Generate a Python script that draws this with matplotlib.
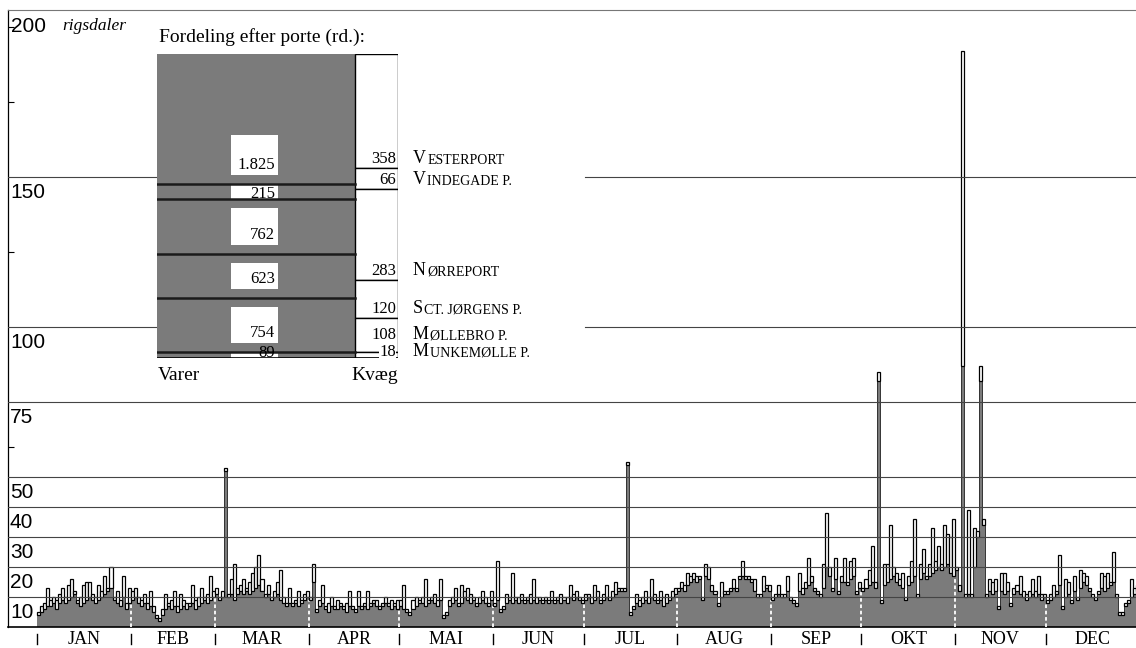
import numpy as np
import matplotlib.pyplot as plt
from matplotlib.transforms import blended_transform_factory

# Daily toll income (rigsdaler), one line per month
maaneder = ["JAN", "FEB", "MAR", "APR", "MAI", "JUN",
            "JUL", "AUG", "SEP", "OKT", "NOV", "DEC"]
dage_i_maaned = [31, 28, 31, 30, 31, 30, 31, 31, 30, 31, 30, 31]

# goods (grey part)
varer = [
    4, 5, 6, 7, 7, 8, 6, 8, 9, 8, 9, 10, 11, 8, 7, 8, 9, 10, 9, 8, 9, 10, 11, 12, 13, 9, 8, 7, 10, 6, 8,
    9, 10, 8, 7, 8, 6, 7, 5, 3, 2, 4, 6, 7, 6, 7, 5, 6, 7, 6, 7, 8, 6, 7, 8, 9, 8, 9, 10,
    11, 9, 10, 52, 10, 11, 9, 11, 12, 11, 12, 11, 12, 13, 14, 12, 10, 11, 9, 10, 11, 9, 8, 7, 8, 7, 8, 7, 8, 9, 10,
    9, 15, 5, 7, 8, 6, 5, 7, 6, 6, 7, 6, 5, 7, 6, 5, 7, 6, 7, 6, 7, 8, 7, 6, 7, 8, 7, 6, 7, 6,
    7, 6, 5, 4, 6, 7, 8, 8, 7, 8, 9, 8, 7, 9, 3, 4, 7, 8, 9, 7, 8, 10, 9, 8, 9, 7, 8, 9, 8, 7, 9,
    7, 9, 5, 6, 8, 9, 8, 9, 8, 9, 8, 9, 8, 9, 8, 9, 8, 9, 8, 9, 8, 9, 8, 9, 8, 10, 9, 10, 9, 8,
    9, 10, 8, 9, 10, 8, 9, 10, 9, 10, 11, 12, 12, 12, 54, 4, 6, 8, 7, 8, 9, 8, 10, 9, 8, 9, 7, 8, 9, 10, 11,
    12, 13, 12, 14, 15, 16, 15, 16, 9, 17, 16, 12, 11, 7, 10, 11, 11, 12, 13, 12, 16, 17, 16, 16, 15, 12, 10, 10, 12, 13, 12,
    9, 10, 11, 10, 10, 12, 9, 8, 7, 12, 11, 13, 14, 15, 12, 11, 10, 13, 20, 17, 12, 16, 11, 15, 15, 14, 16, 17, 11, 13,
    12, 13, 14, 15, 13, 82, 8, 14, 15, 16, 17, 15, 14, 13, 9, 14, 15, 17, 10, 16, 18, 16, 17, 18, 19, 20, 19, 20, 21, 18, 17,
    19, 12, 87, 10, 11, 10, 20, 30, 82, 34, 10, 12, 11, 12, 6, 12, 11, 12, 7, 11, 12, 11, 10, 9, 10, 11, 10, 11, 9, 10,
    8, 9, 10, 11, 14, 6, 10, 11, 8, 12, 9, 13, 15, 14, 12, 10, 9, 11, 13, 12, 13, 14, 15, 10, 4, 4, 7, 8, 10, 11, 12,
]

# goods + cattle (top of the white bars)
samlet = [
    5, 7, 8, 13, 9, 10, 9, 11, 13, 10, 14, 16, 12, 9, 10, 14, 15, 15, 11, 10, 14, 12, 17, 13, 20, 10, 12, 9, 17, 8, 13,
    12, 13, 10, 9, 11, 8, 12, 7, 4, 3, 6, 11, 8, 9, 12, 7, 11, 9, 8, 8, 14, 9, 10, 13, 10, 11, 17, 12,
    13, 10, 12, 53, 11, 16, 21, 13, 14, 16, 13, 15, 18, 20, 24, 16, 11, 14, 10, 12, 15, 19, 10, 8, 13, 8, 9, 12, 9, 11, 12,
    10, 21, 6, 9, 14, 7, 8, 10, 7, 9, 8, 7, 8, 12, 7, 6, 12, 7, 8, 12, 8, 9, 9, 7, 8, 10, 8, 9, 8, 9,
    9, 14, 6, 5, 9, 10, 9, 10, 16, 9, 10, 11, 9, 16, 4, 5, 9, 10, 13, 8, 14, 12, 13, 11, 10, 8, 10, 12, 10, 8, 12,
    8, 22, 6, 7, 11, 10, 18, 10, 10, 11, 9, 10, 11, 16, 10, 10, 9, 10, 9, 12, 9, 10, 11, 10, 10, 14, 11, 12, 10, 9,
    11, 11, 10, 14, 12, 9, 11, 14, 10, 12, 15, 13, 13, 13, 55, 5, 7, 11, 9, 10, 12, 10, 16, 11, 9, 12, 10, 11, 10, 12, 13,
    13, 15, 14, 18, 17, 18, 17, 17, 10, 21, 20, 14, 12, 8, 15, 12, 12, 13, 16, 13, 17, 22, 17, 17, 16, 16, 11, 11, 17, 14, 14,
    10, 11, 14, 11, 11, 17, 10, 9, 8, 18, 13, 15, 23, 17, 13, 12, 11, 21, 38, 20, 13, 23, 12, 17, 23, 15, 22, 23, 12, 15,
    13, 16, 19, 27, 15, 85, 9, 21, 21, 34, 20, 18, 16, 18, 10, 17, 22, 36, 11, 21, 26, 17, 21, 33, 22, 27, 21, 34, 31, 30, 36,
    20, 14, 192, 11, 39, 11, 33, 32, 87, 36, 11, 16, 15, 16, 7, 18, 18, 15, 8, 13, 14, 17, 12, 11, 12, 16, 12, 17, 11, 11,
    9, 11, 14, 12, 24, 7, 16, 15, 9, 17, 10, 19, 18, 17, 13, 11, 10, 12, 18, 17, 18, 15, 25, 11, 5, 5, 8, 9, 16, 13, 14,
]

y_linjer = [10, 20, 30, 40, 50, 75, 100, 150]

# Distribution by gate (rd.)
porte = ["VESTERPORT", "VINDEGADE P.", "NØRREPORT",
         "SCT. JØRGENS P.", "MØLLEBRO P.", "MUNKEMØLLE P."]
varer_port = [1825, 215, 762, 623, 754, 89]
kvaeg_port = [358, 66, 283, 120, 108, 18]
varer_tekst = ["1.825", "215", "762", "623", "754", "89"]

GRAA = "#7b7b7b"
W, H = 1136, 648
SANS = "Liberation Sans"
SERIF = "Liberation Serif"

varer = np.array(varer, dtype=float)
samlet = np.array(samlet, dtype=float)
dage = np.arange(len(varer))

fig = plt.figure(figsize=(W / 100, H / 100), dpi=100)
ax = fig.add_axes([8 / W, 21 / H, 1128 / W, 617 / H])
ax.set_xlim(-29 / 3.02, 1099 / 3.02)
ax.set_ylim(0, 617 / 3)

# bars: grey goods, white cattle on top
ax.bar(dage, varer, width=1, align="edge", color=GRAA, lw=0, zorder=2)
ax.step(np.r_[dage, len(dage)], np.r_[varer, varer[-1]], where="post",
        color="#333333", lw=0.7, zorder=2.5)
ax.bar(dage, samlet - varer, bottom=varer, width=1, align="edge",
       color="white", edgecolor="black", lw=0.9, zorder=3)

# month borders, white dashes in the grey
starts = np.cumsum([0] + dage_i_maaned)
for s in starts[1:-1]:
    ax.vlines(s, 0, min(varer[s - 1], varer[s]), colors="white",
              linestyles=(0, (2, 1.5)), lw=1.3, zorder=2.7)

# horizontal lines (100 and 150 broken by the inset)
for v in y_linjer:
    if v in (100, 150):
        ax.axhline(v, xmin=0, xmax=150 / 1128, color="#444", lw=0.8, zorder=4)
        ax.axhline(v, xmin=577 / 1128, xmax=1, color="#444", lw=0.8, zorder=4)
    else:
        ax.axhline(v, color="#444", lw=0.8, zorder=4)

ylab = blended_transform_factory(ax.transAxes, ax.transData)
for v in y_linjer:
    ax.text(2 / 1128, v - 2, str(v), transform=ylab, ha="left", va="top",
            fontsize=15, family=SANS, zorder=5)
ax.text(3 / 1128, 200, "200", transform=ylab, ha="left", va="center",
        fontsize=15, family=SANS)
ax.text(54 / 1128, 199, "rigsdaler", transform=ylab, ha="left",
        va="baseline", fontsize=12.5, family=SERIF, style="italic")

# month labels and ticks under the axis
xlab = blended_transform_factory(ax.transData, ax.transAxes)
for i, navn in enumerate(maaneder):
    midt = (starts[i] + starts[i + 1]) / 2
    ax.text(midt, -4 / 617, navn, transform=xlab, ha="center", va="top",
            fontsize=13, family=SERIF, clip_on=False)
for s in starts[:-1]:
    ax.plot([s, s], [-7 / 617, -17 / 617], transform=xlab, color="black",
            lw=1, clip_on=False)

ax.set_xticks([])
ax.set_yticks([60, 125, 175, 200])
ax.tick_params(axis="y", direction="in", length=4, labelleft=False, width=0.8)
ax.spines["right"].set_visible(False)
ax.spines["top"].set_color("#777")
ax.spines["left"].set_linewidth(0.9)
ax.spines["bottom"].set_linewidth(1.2)

# inset: distribution by gate
ai = fig.add_axes([157 / W, (H - 358) / H, 241 / W, 304 / H])
ai.set_xlim(0, 241)
ai.set_ylim(0, 1)
ai.axis("off")
PX = 304.0

vf = np.array(varer_port) / sum(varer_port)
v_bund = 1 - np.cumsum(vf)
kf = np.array(kvaeg_port) / sum(kvaeg_port)
k_bund = 1 - np.cumsum(kf)

ai.bar(0, vf, bottom=v_bund, width=198, align="edge", color=GRAA, lw=0)
for b in v_bund[:-1]:
    ai.plot([0, 198], [b, b], color="#1a1a1a", lw=1.8)

for i, tekst in enumerate(varer_tekst):
    b, t = v_bund[i], v_bund[i] + vf[i]
    if (t - b) * PX > 30:
        bb = b + 9 / PX
        bt = min(t - 9 / PX, bb + 40 / PX)
        base = bb + 6 / PX
    else:
        bb, bt = b, t
        base = b + 1 / PX
    ai.add_patch(plt.Rectangle((74, bb), 47, bt - bb, color="white", lw=0))
    ai.text(118, base, tekst, ha="right", va="baseline", fontsize=12,
            family=SERIF)

ai.bar(198, kf, bottom=k_bund, width=43, align="edge", color="white",
       edgecolor="black", lw=1)
ai.plot([0, 241], [0, 0], color="black", lw=1.2)

# cattle numbers and gate names, pushed apart from the bottom up
baser = {}
forrige = -100.0
for i in reversed(range(len(porte))):
    px = max(k_bund[i] * PX + (5 if kf[i] * PX > 12 else 2), forrige + 17)
    baser[i] = px / PX
    forrige = px

for i, port in enumerate(porte):
    base = baser[i]
    bbox = None if kf[i] * PX > 12 else dict(fc="white", ec="none", pad=0.3)
    ai.text(239, base, str(kvaeg_port[i]), ha="right", va="baseline",
            fontsize=12, family=SERIF, bbox=bbox)
    forst = ai.text(256, base, port[0], ha="left", va="baseline",
                    fontsize=13, family=SERIF, clip_on=False)
    ai.annotate(port[1:], xy=(1, 0), xycoords=forst, xytext=(0.8, 0),
                textcoords="offset points", ha="left", va="bottom",
                fontsize=10, family=SERIF)

fig.text(159 / W, 1 - 42 / H, "Fordeling efter porte (rd.):", ha="left",
         va="baseline", fontsize=14, family=SERIF)
fig.text(158 / W, 1 - 380 / H, "Varer", ha="left", va="baseline",
         fontsize=14, family=SERIF)
fig.text(398 / W, 1 - 380 / H, "Kvæg", ha="right", va="baseline",
         fontsize=14, family=SERIF)

fig.savefig("out.png", dpi=100)
